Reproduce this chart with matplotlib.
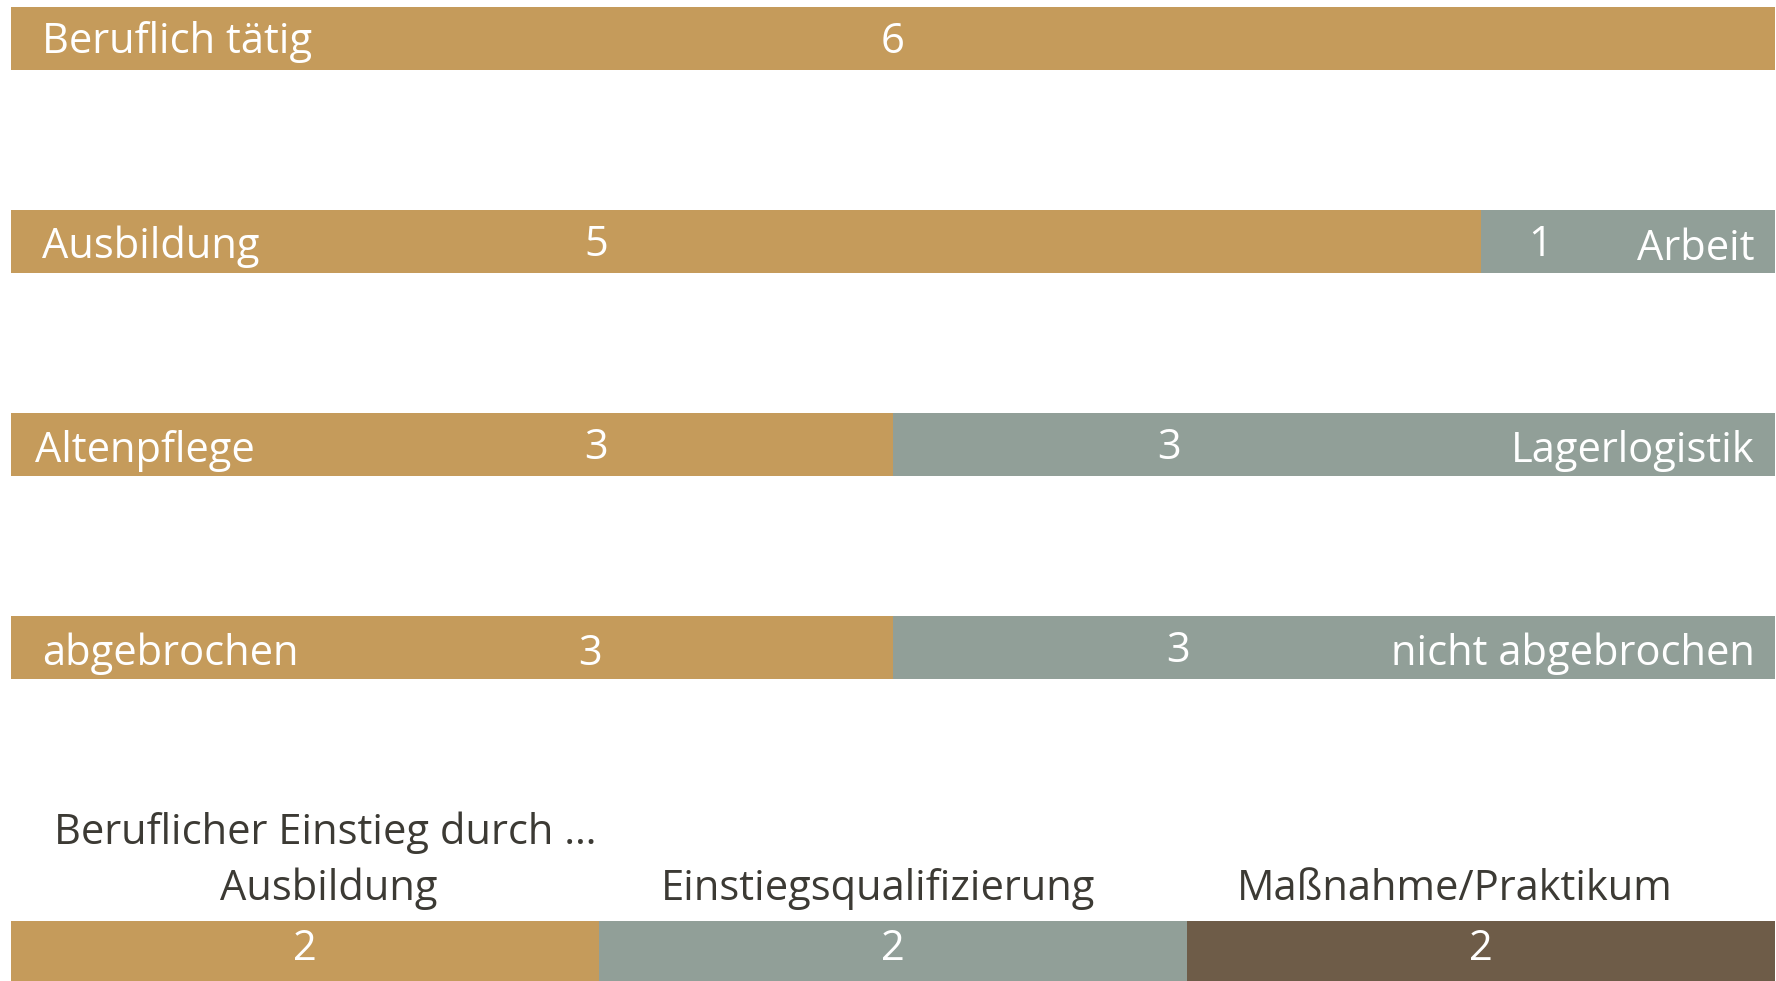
import matplotlib
matplotlib.use("Agg")
import matplotlib.pyplot as plt

# ---- data ----
rows_left_labels = ["Beruflich tätig", "Ausbildung", "Altenpflege", "abgebrochen"]
rows_right_labels = ["", "Arbeit", "Lagerlogistik", "nicht abgebrochen"]
rows_left_values = [6, 5, 3, 3]
rows_right_values = [0, 1, 3, 3]

entry_title = "Beruflicher Einstieg durch …"
entry_labels = ["Ausbildung", "Einstiegsqualifizierung", "Maßnahme/Praktikum"]
entry_values = [2, 2, 2]

# ---- style ----
GOLD = "#C59B5B"
GREY = "#919F98"
BROWN = "#6E5C48"
DARK = "#3C3A34"
FONT = "Open Sans"
FS = 30
WT = "medium"

W, H = 1776, 981
fig = plt.figure(figsize=(W / 100, H / 100), dpi=100)
ax = fig.add_axes([0, 0, 1, 1])
# pixel mapping: x_px = 11 + x*294 ; y_px = 38.5 + y*203
ax.set_xlim(-11 / 294, (W - 11) / 294)
ax.set_ylim((H - 38.5) / 203, -38.5 / 203)
ax.axis("off")

bar_h = 0.31
row_y = [0, 1, 2, 3]
entry_y = 4.5

# value label positions (x, data units) and small vertical offsets
left_val_x = [3.0, 1.99, 1.99, 1.97]
right_val_x = [None, 5.2, 3.94, 3.97]
left_lab_x = [0.105, 0.105, 0.08, 0.105]
right_lab_x = 5.93
lab_dy = [0.015, 0.025, 0.03, 0.03]
num_dy = [0.015, 0.015, 0.015, 0.03]
num_dy_r = [0, 0.015, 0.015, 0.015]

kw = dict(fontsize=FS, family=FONT, fontweight=WT)

for i, y in enumerate(row_y):
    lv, rv = rows_left_values[i], rows_right_values[i]
    ax.barh(y, lv, height=bar_h, left=0, color=GOLD, edgecolor="none")
    if rv:
        ax.barh(y, rv, height=bar_h, left=lv, color=GREY, edgecolor="none")
    ax.text(left_lab_x[i], y + lab_dy[i], rows_left_labels[i], color="white",
            ha="left", va="center", **kw)
    ax.text(left_val_x[i], y + num_dy[i], str(lv), color="white",
            ha="center", va="center", **kw)
    if rv:
        ax.text(right_val_x[i], y + num_dy_r[i], str(rv), color="white",
                ha="center", va="center", **kw)
        ax.text(right_lab_x, y + lab_dy[i] + (0.01 if i == 1 else 0),
                rows_right_labels[i], color="white",
                ha="right", va="center", **kw)

entry_colors = [GOLD, GREY, BROWN]
entry_lab_x = [1.08, 2.95, 4.91]
left = 0
for v, c, lab, lx in zip(entry_values, entry_colors, entry_labels, entry_lab_x):
    ax.barh(entry_y, v, height=bar_h, left=left, color=c, edgecolor="none")
    ax.text(left + v / 2, entry_y - 0.015, str(v), color="white",
            ha="center", va="center", **kw)
    ax.text(lx, entry_y - 0.31, lab, color=DARK,
            ha="center", va="center", **kw)
    left += v

ax.text(0.146, entry_y - 0.585, entry_title, color=DARK,
        ha="left", va="center", **kw)

fig.savefig("out.png", dpi=100, facecolor="white")
